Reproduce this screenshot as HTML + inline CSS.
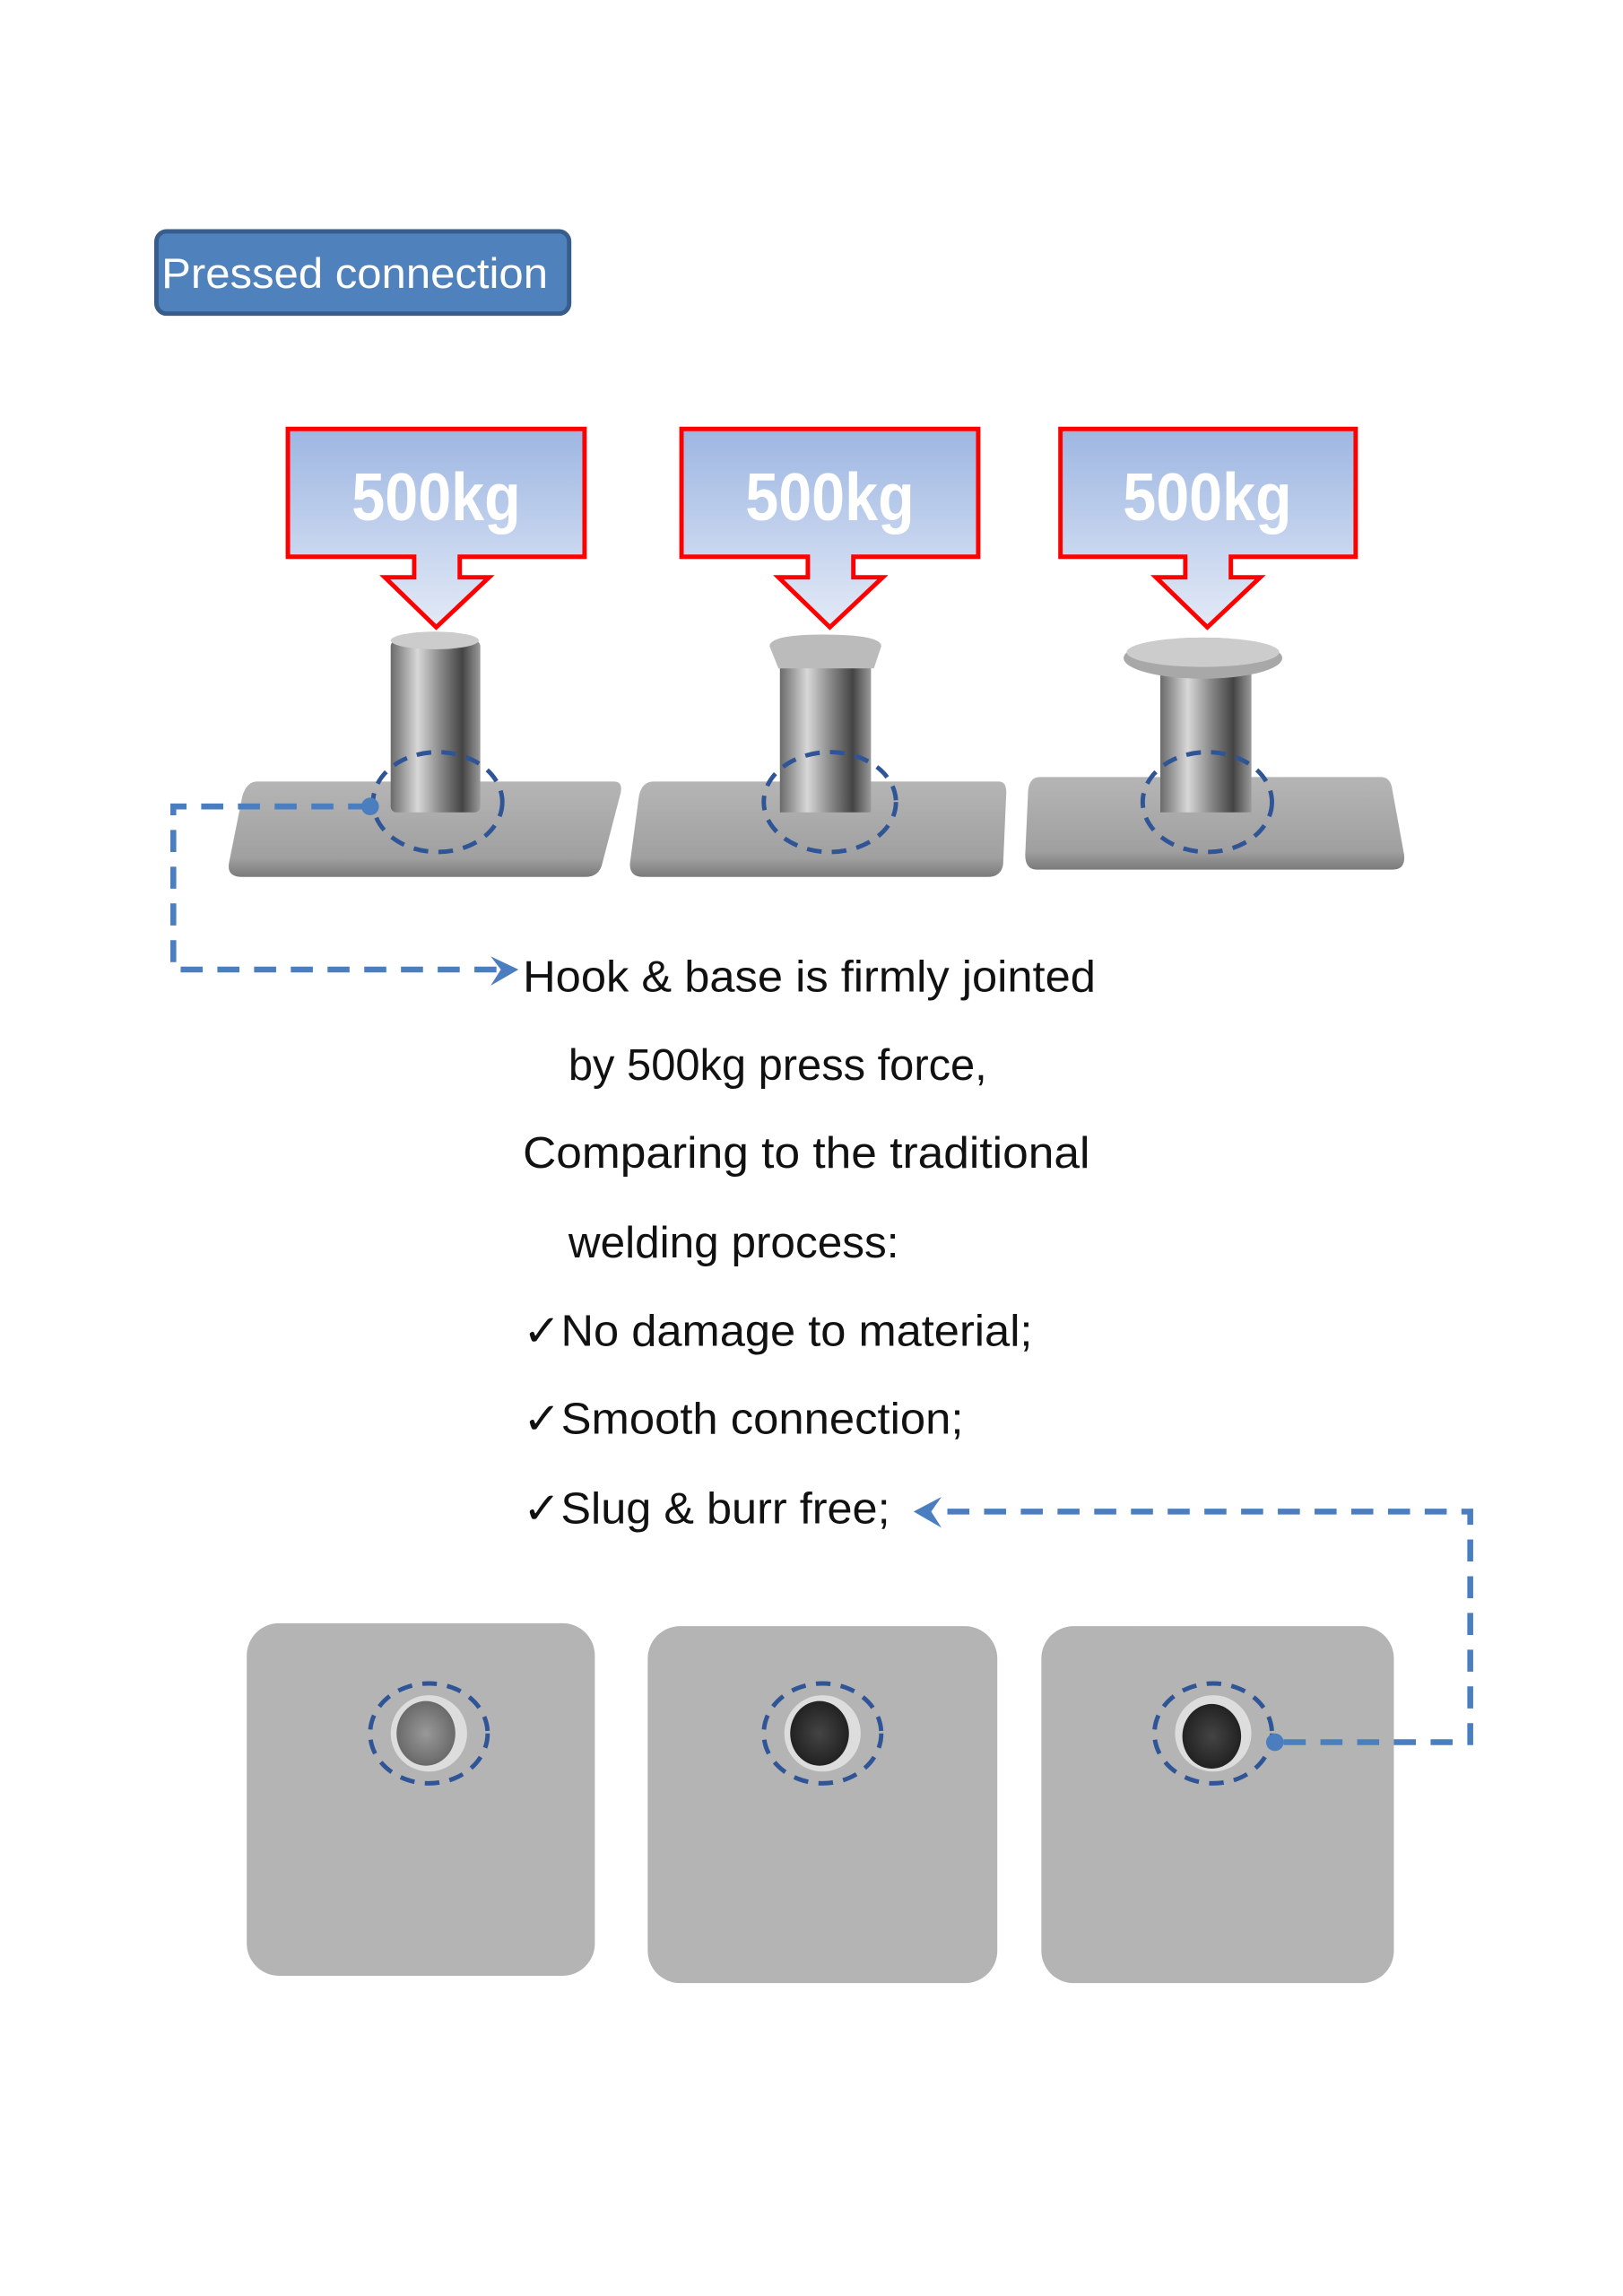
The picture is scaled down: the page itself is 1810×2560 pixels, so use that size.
<!DOCTYPE html>
<html><head><meta charset="utf-8"><style>html,body{margin:0;padding:0;background:#fff}svg{display:block}</style></head>
<body>
<svg width="1810" height="2560" viewBox="0 0 1105 1563" preserveAspectRatio="none" xmlns="http://www.w3.org/2000/svg">
<defs>
<linearGradient id="bl" x1="0" y1="0" x2="0" y2="1"><stop offset="0" stop-color="#9db6e2"/><stop offset="1" stop-color="#e3eaf7"/></linearGradient>
<linearGradient id="pin" x1="0" y1="0" x2="1" y2="0"><stop offset="0" stop-color="#6a6a6a"/><stop offset="0.3" stop-color="#d8d8d8"/><stop offset="0.55" stop-color="#8a8a8a"/><stop offset="0.8" stop-color="#444"/><stop offset="1" stop-color="#9a9a9a"/></linearGradient>
<linearGradient id="base" x1="0" y1="0" x2="0" y2="1"><stop offset="0" stop-color="#b5b5b5"/><stop offset="0.8" stop-color="#a0a0a0"/><stop offset="1" stop-color="#7a7a7a"/></linearGradient>
<radialGradient id="hole1"><stop offset="0" stop-color="#999"/><stop offset="1" stop-color="#6a6a6a"/></radialGradient>
<radialGradient id="hole2"><stop offset="0" stop-color="#444"/><stop offset="1" stop-color="#222"/></radialGradient>
</defs>
<rect x="106.5" y="157.5" width="281" height="56" rx="7" fill="#4f81bd" stroke="#385d8a" stroke-width="3"/>
<text x="110" y="196" font-family="Liberation Sans, sans-serif" font-size="29" fill="#fff" textLength="263" lengthAdjust="spacingAndGlyphs">Pressed connection</text>

<g stroke="#f00" stroke-width="3" fill="url(#bl)">
<path d="M196 292H398V379H313V393H333L297 427L262 393H282V379H196Z"/>
<path d="M464 292H666V379H581V393H601L565 427L530 393H550V379H464Z"/>
<path d="M722 292H923V379H838V393H858L822 427L787 393H807V379H722Z"/>
</g>
<g font-family="Liberation Sans, sans-serif" font-weight="bold" font-size="46" fill="#fff" text-anchor="middle">
<text x="297" y="354" textLength="115" lengthAdjust="spacingAndGlyphs">500kg</text>
<text x="565" y="354" textLength="115" lengthAdjust="spacingAndGlyphs">500kg</text>
<text x="822" y="354" textLength="115" lengthAdjust="spacingAndGlyphs">500kg</text>
</g>

<path d="M175 532H418Q425 532 422 542L410 588Q408 597 398 597H165Q154 597 156 587L165 542Q168 532 175 532Z" fill="url(#base)"/>
<path d="M445 532H680Q686 532 685 542L683 588Q682 597 672 597H438Q428 597 429 587L435 542Q437 532 445 532Z" fill="url(#base)"/>
<path d="M708 529H940Q947 529 948 538L956 582Q957 592 948 592H706Q698 592 698 582L700 538Q701 529 708 529Z" fill="url(#base)"/>
<rect x="266" y="436" width="61" height="117" rx="4" fill="url(#pin)"/>
<ellipse cx="296" cy="436" rx="30" ry="6" fill="#ccc"/>
<rect x="531" y="445" width="62" height="108" fill="url(#pin)"/>
<path d="M524 440Q524 432 560 432Q600 432 600 440L595 455H530Z" fill="#bbb"/>
<rect x="790" y="455" width="62" height="98" fill="url(#pin)"/>
<ellipse cx="819" cy="448" rx="54" ry="14" fill="#a8a8a8"/>
<ellipse cx="819" cy="444" rx="52" ry="10" fill="#ccc"/>

<g fill="none" stroke="#2f5597" stroke-width="3" stroke-dasharray="10 7">
<ellipse cx="298" cy="546" rx="44" ry="34"/>
<ellipse cx="565" cy="546" rx="45" ry="34"/>
<ellipse cx="822" cy="546" rx="44" ry="34"/>
</g>

<g font-family="Liberation Sans, sans-serif" font-size="30" fill="#111">
<text x="356" y="675" textLength="390" lengthAdjust="spacingAndGlyphs">Hook &amp; base is firmly jointed</text>
<text x="387" y="735" textLength="285" lengthAdjust="spacingAndGlyphs">by 500kg press force,</text>
<text x="356" y="795" textLength="386" lengthAdjust="spacingAndGlyphs">Comparing to the traditional</text>
<text x="387" y="856" textLength="225" lengthAdjust="spacingAndGlyphs">welding process:</text>
<text x="356" y="916" textLength="347" lengthAdjust="spacingAndGlyphs">✓No damage to material;</text>
<text x="356" y="976" textLength="300" lengthAdjust="spacingAndGlyphs">✓Smooth connection;</text>
<text x="356" y="1037" textLength="250" lengthAdjust="spacingAndGlyphs">✓Slug &amp; burr free;</text>
</g>

<g fill="#b4b4b4">
<rect x="168" y="1105" width="237" height="240" rx="22"/>
<rect x="441" y="1107" width="238" height="243" rx="22"/>
<rect x="709" y="1107" width="240" height="243" rx="22"/>
</g>
<ellipse cx="292" cy="1180" rx="26" ry="26" fill="#ddd"/>
<ellipse cx="290" cy="1180" rx="20" ry="22" fill="url(#hole1)"/>
<ellipse cx="560" cy="1180" rx="26" ry="26" fill="#ddd"/>
<ellipse cx="558" cy="1180" rx="20" ry="22" fill="url(#hole2)"/>
<ellipse cx="826" cy="1180" rx="26" ry="26" fill="#ddd"/>
<ellipse cx="825" cy="1182" rx="20" ry="22" fill="url(#hole2)"/>
<g fill="none" stroke="#2f5597" stroke-width="3" stroke-dasharray="10 7">
<ellipse cx="292" cy="1180" rx="40" ry="34"/>
<ellipse cx="560" cy="1180" rx="40" ry="34"/>
<ellipse cx="826" cy="1180" rx="40" ry="34"/>
</g>

<g fill="none" stroke="#4a7ebf" stroke-width="4" stroke-dasharray="15 10">
<path d="M252 549H118V660H340"/>
<path d="M645 1029H1001V1186H870"/>
</g>
<circle cx="252" cy="549" r="6" fill="#4a7ebf"/>
<path d="M334 651L353 660L334 671L341 660Z" fill="#4a7ebf"/>
<circle cx="868" cy="1186" r="6" fill="#4a7ebf"/>
<path d="M641 1019L622 1029L641 1040L634 1029Z" fill="#4a7ebf"/>
</svg>
</body></html>
